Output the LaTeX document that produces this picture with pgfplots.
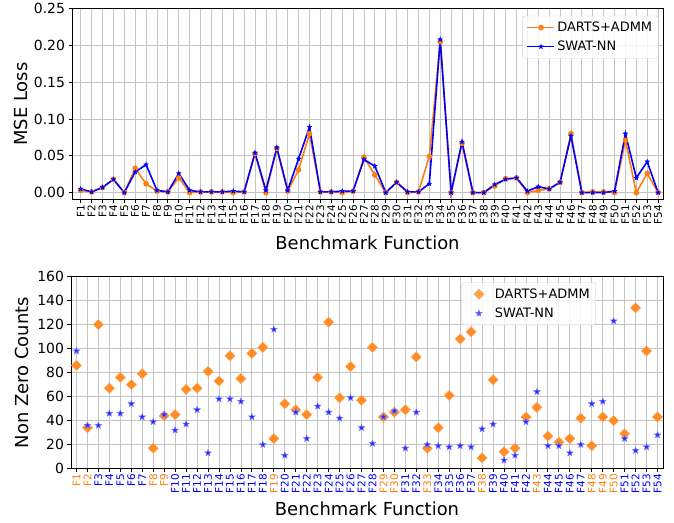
\documentclass[border=0pt]{standalone}
\usepackage{pgfplots}
\pgfplotsset{compat=1.18}
\usepackage{fontspec}
\setmainfont{DejaVu Sans}

\definecolor{darts}{HTML}{FF7F0E}
\definecolor{swat}{HTML}{0000FF}
\definecolor{gridc}{HTML}{C4C4C4}

% filled five-pointed star, like matplotlib's '*'
\pgfdeclareplotmark{fstar}{%
  \pgfpathmoveto{\pgfpointpolar{90}{\pgfplotmarksize}}%
  \pgfpathlineto{\pgfpointpolar{126}{0.42\pgfplotmarksize}}%
  \pgfpathlineto{\pgfpointpolar{162}{\pgfplotmarksize}}%
  \pgfpathlineto{\pgfpointpolar{198}{0.42\pgfplotmarksize}}%
  \pgfpathlineto{\pgfpointpolar{234}{\pgfplotmarksize}}%
  \pgfpathlineto{\pgfpointpolar{270}{0.42\pgfplotmarksize}}%
  \pgfpathlineto{\pgfpointpolar{306}{\pgfplotmarksize}}%
  \pgfpathlineto{\pgfpointpolar{342}{0.42\pgfplotmarksize}}%
  \pgfpathlineto{\pgfpointpolar{18}{\pgfplotmarksize}}%
  \pgfpathlineto{\pgfpointpolar{54}{0.42\pgfplotmarksize}}%
  \pgfpathclose
  \pgfusepathqfillstroke
}

\pgfplotstableread{
x  darts  swat
1  0.003  0.005
2  0.001  0.001
3  0.007  0.007
4  0.018  0.018
5  0.000  0.000
6  0.033  0.028
7  0.012  0.038
8  0.002  0.003
9  0.001  0.001
10 0.020  0.026
11 0.000  0.003
12 0.001  0.001
13 0.001  0.001
14 0.001  0.001
15 0.000  0.002
16 0.001  0.001
17 0.053  0.054
18 0.000  0.003
19 0.060  0.061
20 0.002  0.003
21 0.031  0.046
22 0.080  0.089
23 0.001  0.001
24 0.001  0.001
25 0.000  0.002
26 0.002  0.002
27 0.048  0.045
28 0.024  0.036
29 0.000  0.000
30 0.014  0.014
31 0.000  0.001
32 0.001  0.001
33 0.049  0.012
34 0.205  0.208
35 0.000  0.000
36 0.067  0.069
37 0.000  0.000
38 0.000  0.000
39 0.009  0.011
40 0.019  0.018
41 0.020  0.020
42 0.000  0.002
43 0.003  0.008
44 0.005  0.005
45 0.014  0.014
46 0.080  0.077
47 0.000  0.000
48 0.001  0.000
49 0.001  0.000
50 0.000  0.002
51 0.071  0.080
52 0.000  0.020
53 0.026  0.042
54 0.000  0.000
}\msetab

\pgfplotstableread{
x  darts  swat
1  86   98
2  34   36
3  120  36
4  67   46
5  76   46
6  70   54
7  79   43
8  17   39
9  44   45
10 45   32
11 66   37
12 67   49
13 81   13
14 73   58
15 94   58
16 75   56
17 96   43
18 101  20
19 25   116
20 54   11
21 49   47
22 45   25
23 76   52
24 122  47
25 59   42
26 85   59
27 57   34
28 101  21
29 43   43
30 47   48
31 49   17
32 93   47
33 17   20
34 34   19
35 61   18
36 108  19
37 114  18
38 9    33
39 74   37
40 14   7
41 17   11
42 43   39
43 51   64
44 27   19
45 22   19
46 25   13
47 42   20
48 19   54
49 43   56
50 40   123
51 29   25
52 134  15
53 98   18
54 43   28
}\nztab

\pgfplotsset{
  base/.style={
    scale only axis,
    xtick={1,...,54},
    grid=major,
    grid style={gridc, line width=0.8bp},
    axis line style={line width=0.8bp},
    tick align=outside, tick pos=left,
    major tick length=3.5bp,
    tick style={line width=0.8bp, black},
    x tick label style={rotate=90, anchor=east, font=\fontsize{10.5}{11}\selectfont, inner sep=2bp},
    y tick label style={font=\fontsize{14}{16}\selectfont},
    /pgf/number format/assume math mode=true,
    label style={font=\fontsize{18}{20}\selectfont},
    legend cell align=left,
    legend style={font=\fontsize{13}{15}\selectfont, draw=gray!35, rounded corners=2bp,
      fill=white, fill opacity=0.8, text opacity=1, inner xsep=4bp, inner ysep=4bp, row sep=4bp},
  },
}

\begin{document}
\begin{tikzpicture}
% top: MSE loss
\begin{axis}[base,
  at={(72bp,323bp)}, anchor=south west,
  width=591bp, height=191bp,
  xmin=0.2, xmax=54.45, ymin=-0.0095, ymax=0.25,
  ytick={0,0.05,0.10,0.15,0.20,0.25},
  yticklabel style={/pgf/number format/.cd, fixed, fixed zerofill, precision=2},
  xticklabels={F1,F2,F3,F4,F5,F6,F7,F8,F9,F10,F11,F12,F13,F14,F15,F16,F17,F18,F19,F20,F21,F22,F23,F24,F25,F26,F27,F28,F29,F30,F31,F32,F33,F34,F35,F36,F37,F38,F39,F40,F41,F42,F43,F44,F45,F46,F47,F48,F49,F50,F51,F52,F53,F54},
  xlabel={Benchmark Function}, ylabel={MSE Loss},
  xlabel style={at={(axis description cs:0.5,-0.225)}, anchor=center},
  ylabel style={at={(axis description cs:-0.086,0.5)}, anchor=center},
  legend style={at={(0.992,0.962)}, anchor=north east},
  legend image code/.code={\draw[mark repeat=2, mark phase=2, #1] plot coordinates {(0bp,0bp) (13.5bp,0bp) (27bp,0bp)};},
]
\addplot[darts, line width=1.6bp, mark=*, mark size=2bp] table[x=x, y=darts] {\msetab};
\addlegendentry{DARTS+ADMM}
\addplot[swat, line width=1.6bp, mark=fstar, mark size=2.4bp, mark options={line width=0.4bp}] table[x=x, y=swat] {\msetab};
\addlegendentry{SWAT-NN}
\end{axis}

% bottom: non zero counts
\begin{axis}[base,
  at={(71bp,54bp)}, anchor=south west,
  width=592bp, height=192bp,
  xmin=0.5, xmax=54.5, ymin=0, ymax=160,
  ytick={0,20,...,160},
  xticklabels={\textcolor{darts}{F1},\textcolor{darts}{F2},\textcolor{swat}{F3},\textcolor{swat}{F4},\textcolor{swat}{F5},\textcolor{swat}{F6},\textcolor{swat}{F7},\textcolor{darts}{F8},\textcolor{darts}{F9},\textcolor{swat}{F10},\textcolor{swat}{F11},\textcolor{swat}{F12},\textcolor{swat}{F13},\textcolor{swat}{F14},\textcolor{swat}{F15},\textcolor{swat}{F16},\textcolor{swat}{F17},\textcolor{swat}{F18},\textcolor{darts}{F19},\textcolor{swat}{F20},\textcolor{swat}{F21},\textcolor{swat}{F22},\textcolor{swat}{F23},\textcolor{swat}{F24},\textcolor{swat}{F25},\textcolor{swat}{F26},\textcolor{swat}{F27},\textcolor{swat}{F28},\textcolor{darts}{F29},\textcolor{darts}{F30},\textcolor{swat}{F31},\textcolor{swat}{F32},\textcolor{darts}{F33},\textcolor{swat}{F34},\textcolor{swat}{F35},\textcolor{swat}{F36},\textcolor{swat}{F37},\textcolor{darts}{F38},\textcolor{swat}{F39},\textcolor{swat}{F40},\textcolor{swat}{F41},\textcolor{swat}{F42},\textcolor{darts}{F43},\textcolor{swat}{F44},\textcolor{swat}{F45},\textcolor{swat}{F46},\textcolor{swat}{F47},\textcolor{darts}{F48},\textcolor{darts}{F49},\textcolor{darts}{F50},\textcolor{swat}{F51},\textcolor{swat}{F52},\textcolor{swat}{F53},\textcolor{swat}{F54}},
  xlabel={Benchmark Function}, ylabel={Non Zero Counts},
  xlabel style={at={(axis description cs:0.5,-0.21)}, anchor=center},
  ylabel style={at={(axis description cs:-0.082,0.5)}, anchor=center},
  legend style={at={(0.66,0.969)}, anchor=north west},
  legend image code/.code={\path[draw=none, fill=none] (0bp,0bp) -- (27bp,0bp); \draw[#1] plot coordinates {(13bp,0bp)};},
]
\addplot[only marks, mark=square*, mark size=3.6bp,
  mark options={rotate=45, fill=darts!90!white, draw=darts!70!white, line width=0.4bp}]
  table[x=x, y=darts] {\nztab};
\addlegendentry{DARTS+ADMM}
\addplot[only marks, mark=fstar, mark size=3.4bp,
  mark options={fill=swat!85!white, draw=swat!55!white, line width=0.5bp}]
  table[x=x, y=swat] {\nztab};
\addlegendentry{SWAT-NN}
\end{axis}

\path[use as bounding box] (0,0) rectangle (674bp,521bp);
\end{tikzpicture}
\end{document}
